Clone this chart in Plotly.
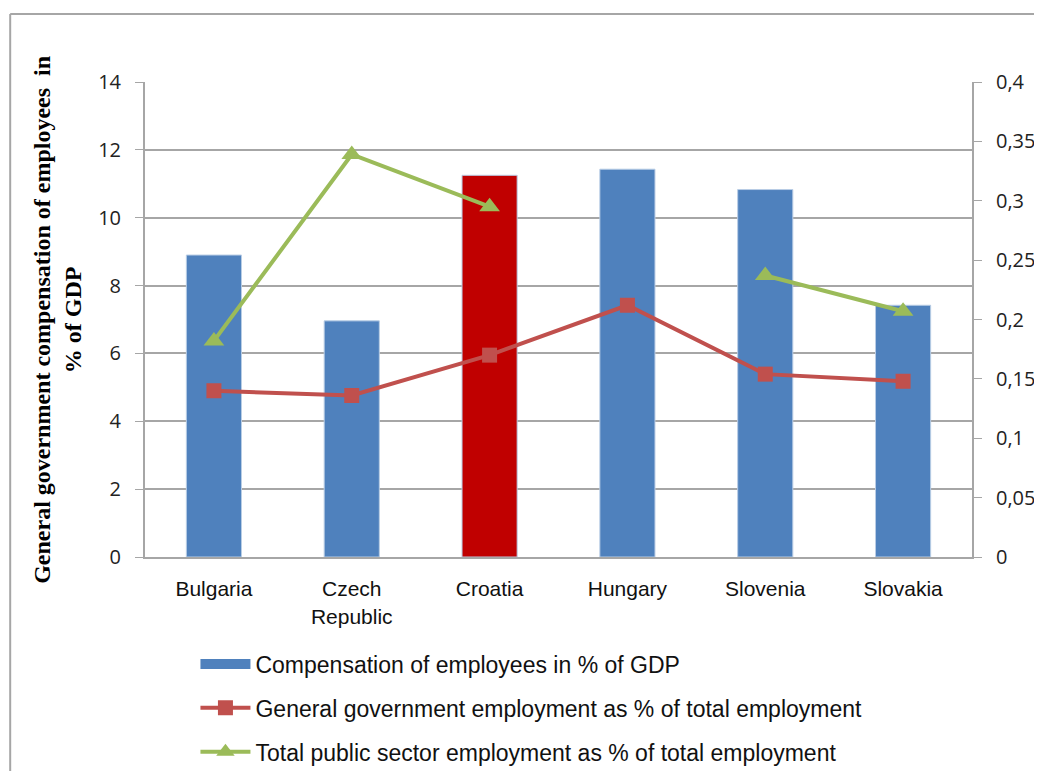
import plotly.graph_objects as go

countries = ["Bulgaria", "Czech<br>Republic", "Croatia", "Hungary", "Slovenia", "Slovakia"]
compensation = [8.9, 6.96, 11.25, 11.43, 10.83, 7.42]
gov_employment = [0.140, 0.136, 0.170, 0.212, 0.154, 0.148]
public_employment = [0.182, 0.339, 0.295, None, 0.237, 0.207]
right_ticks = [0, 0.05, 0.1, 0.15, 0.2, 0.25, 0.3, 0.35, 0.4]
right_labels = ["0", "0,05", "0,1", "0,15", "0,2", "0,25", "0,3", "0,35", "0,4"]

highlight = "Croatia"
bar_colors = ["#c00000" if c == highlight else "#4f81bd" for c in countries]

tick_font = dict(family="Open Sans, sans-serif", size=20, color="#222")
label_font = dict(family="Liberation Sans, sans-serif", size=21, color="#111")
legend_font = dict(family="Liberation Sans, sans-serif", size=23, color="#111")

fig = go.Figure()

fig.add_trace(
    go.Bar(
        x=countries,
        y=compensation,
        name="Compensation of employees in % of GDP",
        marker=dict(color=bar_colors, line=dict(color="#b9cde5", width=1)),
        width=0.4,
        showlegend=False,
    )
)

# legend entry for the bars: a wide blue block like the original
fig.add_trace(
    go.Scatter(
        x=[None],
        y=[None],
        name="Compensation of employees in % of GDP",
        mode="lines",
        line=dict(color="#4f81bd", width=15),
        legendgroup="a",
    )
)

fig.add_trace(
    go.Scatter(
        x=countries,
        y=gov_employment,
        name="General government employment as % of total employment",
        mode="lines+markers",
        line=dict(color="#c0504d", width=4),
        marker=dict(symbol="square", size=15, color="#c0504d"),
        yaxis="y2",
        legendgroup="b",
    )
)

fig.add_trace(
    go.Scatter(
        x=countries,
        y=public_employment,
        name="Total public sector employment as % of total employment",
        mode="lines+markers",
        line=dict(color="#9bbb59", width=4),
        marker=dict(symbol="triangle-up", size=18, color="#9bbb59"),
        connectgaps=False,
        yaxis="y2",
        legendgroup="c",
    )
)

fig.add_annotation(
    text="<b>General government compensation of employees  in<br>% of GDP</b>",
    xref="paper", yref="paper",
    x=-0.106, y=0.5,
    xanchor="center", yanchor="middle",
    textangle=-90,
    showarrow=False,
    font=dict(family="Liberation Serif, serif", size=24, color="#000"),
)

# outer chart frame: only top and left edges are visible in the original
frame = dict(color="#a6a6a6", width=2)
fig.add_shape(type="line", xref="paper", yref="paper",
              x0=-0.163, x1=1.2, y0=1.143, y1=1.143, line=frame)
fig.add_shape(type="line", xref="paper", yref="paper",
              x0=-0.163, x1=-0.163, y0=-0.6, y1=1.143, line=frame)

fig.update_layout(
    width=1026,
    height=763,
    margin=dict(l=137, r=62, t=74, b=214, autoexpand=False),
    paper_bgcolor="white",
    plot_bgcolor="white",
    showlegend=True,
    legend=dict(
        x=0.061, y=-0.18, xanchor="left", yanchor="top",
        font=legend_font,
        tracegroupgap=11,
        itemwidth=50,
    ),
    xaxis=dict(
        tickfont=label_font,
        ticklabelstandoff=12,
        showline=True, linecolor="#a6a6a6", linewidth=2,
        showgrid=False,
    ),
    yaxis=dict(
        range=[0, 14], dtick=2,
        tickfont=tick_font,
        ticklabelstandoff=10,
        showgrid=True, gridcolor="#a6a6a6", gridwidth=2,
        showline=True, linecolor="#a6a6a6", linewidth=2,
        ticks="outside", tickcolor="#a6a6a6", ticklen=8,
        zeroline=False,
    ),
    yaxis2=dict(
        range=[0, 0.4], overlaying="y", side="right",
        tickvals=right_ticks, ticktext=right_labels,
        tickfont=tick_font,
        ticklabelstandoff=10,
        showgrid=False,
        showline=True, linecolor="#a6a6a6", linewidth=2,
        ticks="outside", tickcolor="#a6a6a6", ticklen=8,
        zeroline=False,
    ),
)

fig.write_html("out.html")
